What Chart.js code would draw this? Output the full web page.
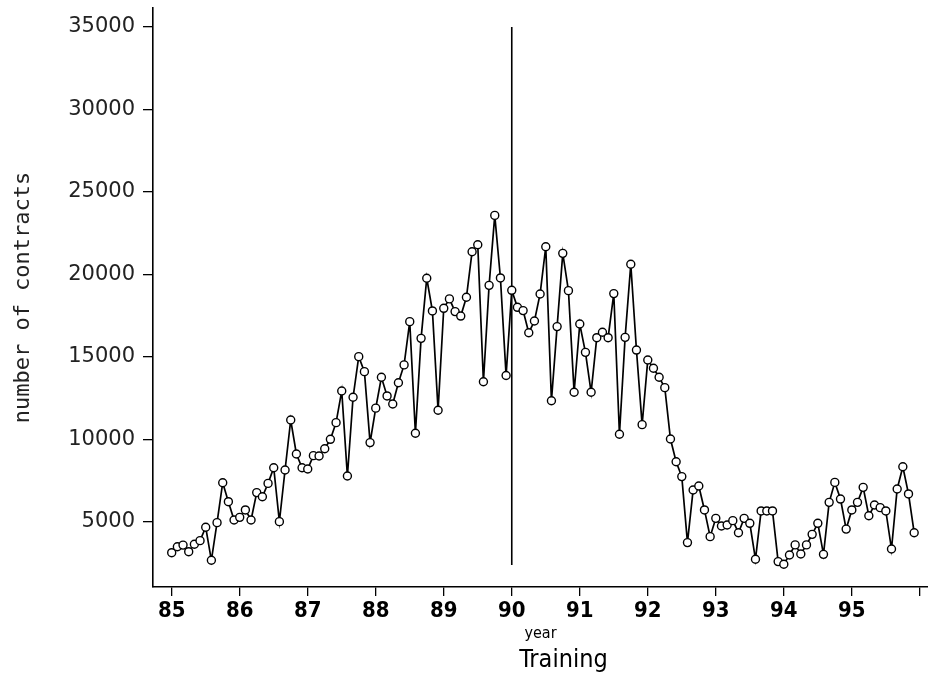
<!DOCTYPE html>
<html>
<head>
<meta charset="utf-8">
<script src="https://cdn.jsdelivr.net/npm/chart.js@4"></script>
<style>
  html, body { margin: 0; padding: 0; background: #fff; }
  #wrap { width: 928px; height: 685px; }
</style>
</head>
<body>
<div id="wrap"><canvas id="contractsChart" width="928" height="685"></canvas></div>
<script>
// monthly number of contracts, Jan 85 .. Dec 95
const startYear = 85;
const contracts = [
  3140, 3500, 3600, 3200, 3650, 3870, 4680, 2680, 4960, 7380, 6230, 5120,       // 85
  5280, 5730, 5120, 6780, 6530, 7340, 8290, 5020, 8150, 11180, 9120, 8290,      // 86
  8210, 9020, 9000, 9440, 10010, 11020, 12940, 7790, 12560, 15020, 14110, 9810, // 87
  11900, 13770, 12640, 12150, 13440, 14520, 17140, 10380, 16130, 19770, 17790, 11770, // 88
  17950, 18520, 17750, 17480, 18620, 21380, 21800, 13500, 19340, 23580, 19790, 13880, // 89
  19040, 18010, 17810, 16470, 17180, 18820, 21680, 12350, 16840, 21280, 19020, 12860, // 90
  17000, 15280, 12860, 16170, 16500, 16170, 18840, 10320, 16190, 20620, 15420, 10900, // 91
  14820, 14320, 13770, 13140, 10030, 8650, 7750, 3750, 6940, 7180, 5730, 4110,  // 92
  5220, 4760, 4820, 5080, 4350, 5220, 4920, 2740, 5670, 5670, 5670, 2600,       // 93
  2440, 3000, 3610, 3060, 3610, 4250, 4920, 3040, 6190, 7400, 6390, 4570,       // 94
  5730, 6190, 7100, 5380, 6030, 5870, 5670, 3360, 7000, 8350, 6700, 4350        // 95
];
const xTickValues = [85, 86, 87, 88, 89, 90, 91, 92, 93, 94, 95, 96];
const yearLabels = [85, 86, 87, 88, 89, 90, 91, 92, 93, 94, 95];
const yTickValues = [5000, 10000, 15000, 20000, 25000, 30000, 35000];

// end of the training period
const splitYear = 90;
const splitSpan = [2400, 35000];

const points = contracts.map((v, i) => ({ x: startYear + i / 12, y: v }));
const splitLine = splitSpan.map(v => ({ x: splitYear, y: v }));

// "Training" caption under the x axis
const bottomCaption = {
  id: "bottomCaption",
  afterDraw(chart) {
    const ctx = chart.ctx;
    const area = chart.chartArea;
    ctx.save();
    ctx.font = '25px "DejaVu Sans Condensed", "DejaVu Sans"';
    ctx.fillStyle = "#000";
    ctx.textAlign = "center";
    ctx.textBaseline = "middle";
    ctx.fillText("Training", (area.left + area.right) / 2 + 23, area.bottom + 73);
    ctx.restore();
  }
};

new Chart(document.getElementById("contractsChart"), {
  type: "line",
  data: {
    datasets: [
      {
        data: points,
        borderColor: "#000",
        borderWidth: 1.7,
        pointRadius: 4,
        pointBorderWidth: 1.4,
        pointBorderColor: "#000",
        pointBackgroundColor: "#fff",
        tension: 0
      },
      {
        data: splitLine,
        borderColor: "#000",
        borderWidth: 1.6,
        pointRadius: 0,
        tension: 0
      }
    ]
  },
  options: {
    responsive: false,
    animation: false,
    devicePixelRatio: 1,
    layout: { autoPadding: false, padding: { top: 8, right: 0, bottom: 40, left: 0 } },
    plugins: {
      legend: { display: false },
      tooltip: { enabled: false }
    },
    scales: {
      x: {
        type: "linear",
        min: 84.725,
        max: 96.12,
        afterBuildTicks: s => { s.ticks = xTickValues.map(v => ({ value: v })); },
        afterFit: s => { s.height = 58; s.paddingLeft = 0; s.paddingRight = 0; },
        border: { display: true, color: "#000", width: 1.6 },
        grid: { display: true, drawOnChartArea: false, drawTicks: true, tickLength: 9, color: "#000", lineWidth: 1.3 },
        ticks: {
          autoSkip: false,
          maxRotation: 0,
          padding: 2,
          color: "#000",
          font: { family: '"DejaVu Sans Condensed", "DejaVu Sans"', size: 22, weight: "bold" },
          callback: v => yearLabels.includes(v) ? String(v) : ""
        },
        title: {
          display: true,
          text: "year",
          color: "#000",
          font: { family: '"DejaVu Sans Condensed", "DejaVu Sans"', size: 16 },
          padding: { top: 0, bottom: 2 }
        }
      },
      y: {
        min: 1060,
        max: 36150,
        afterBuildTicks: s => { s.ticks = yTickValues.map(v => ({ value: v })); },
        afterFit: s => { s.width = 153; s.paddingTop = 0; s.paddingBottom = 0; },
        border: { display: true, color: "#000", width: 1.6 },
        grid: { display: true, drawOnChartArea: false, drawTicks: true, tickLength: 10, color: "#000", lineWidth: 1.3 },
        ticks: {
          autoSkip: false,
          padding: 8,
          color: "#222",
          font: { family: '"DejaVu Sans"', size: 21 },
          callback: v => String(v)
        },
        title: {
          display: true,
          text: "number of contracts",
          color: "#222",
          font: { family: '"DejaVu Sans Mono"', size: 22 },
          padding: { top: 10, bottom: 0 }
        }
      }
    }
  },
  plugins: [bottomCaption]
});
</script>
</body>
</html>
